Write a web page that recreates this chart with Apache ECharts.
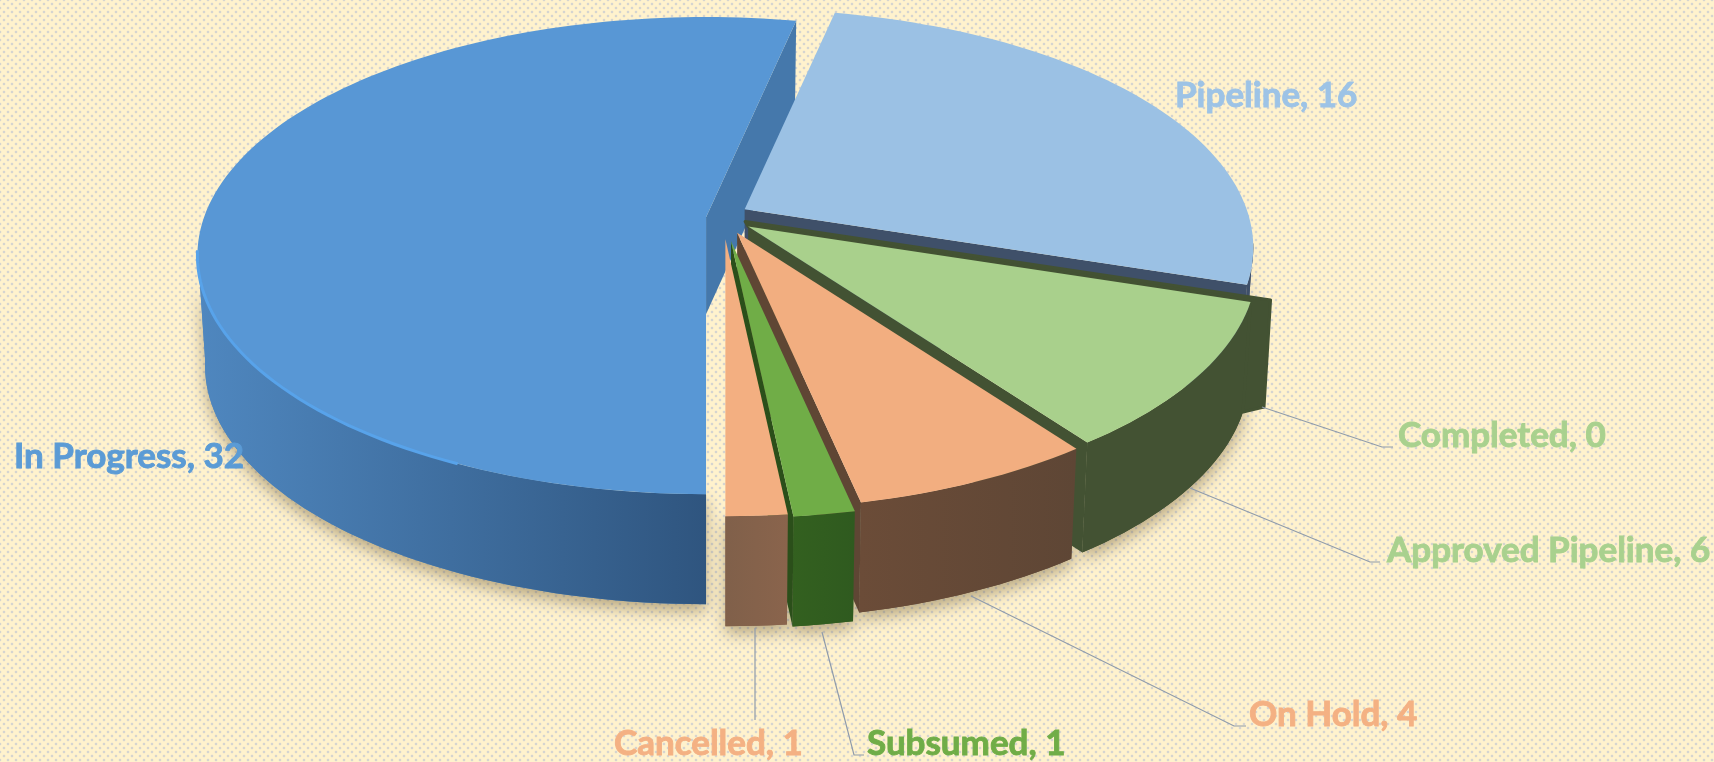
<!DOCTYPE html>
<html>
<head>
<meta charset="utf-8">
<title>Project status</title>
<script src="https://cdn.jsdelivr.net/npm/echarts@6/dist/echarts.min.js"></script>
<style>
html, body { margin: 0; padding: 0; overflow: hidden; }
#main {
    width: 1714px;
    height: 762px;
    background-color: #fff2cd;
    background-image:
        radial-gradient(circle, #d5d4d0 1px, transparent 1.7px),
        radial-gradient(circle, #d5d4d0 1px, transparent 1.7px);
    background-size: 8px 8px;
    background-position: 0 0, 4px 4px;
}
</style>
</head>
<body>
<div id="main"></div>
<script>
// clockwise from the first slice
const categories = ['Pipeline', 'Completed', 'Approved Pipeline', 'On Hold', 'Subsumed', 'Cancelled', 'In Progress'];
const values = [16, 0, 6, 4, 1, 1, 32];

const firstSliceAngle = 12;
const paintOrder = [1, 2, 3, 4, 5, 6, 0];
const explode = [0.05, 0.05, 0.0615, 0.0685, 0.1, 0.09, 0.034];
const lift = [-3, 0, 0, 0, 0, 0, 0];

const topColors = ['#9bc1e4', '#a9d18e', '#a9d08c', '#f2ae80', '#70ad47', '#f3af81', '#5897d5'];
const wallColors = [
    ['#3f5069', '#3f5069'],
    ['#435233', '#435233'],
    ['#435233', '#435233'],
    ['#5e4635', '#6b4c38'],
    ['#2f5a1f', '#33601f'],
    ['#8a644c', '#80604a'],
    ['#4f87bf', '#2f557f']
];
const cutColors = ['#3f5069', '#435233', '#435233', '#5f4634', '#2b4f1a', '#6b4c38', '#4578ab'];
const labelColors = ['#9dc3e6', '#a9d18e', '#a9d18e', '#f4b183', '#70ad47', '#f4b183', '#5b9bd5'];

// label anchors and leader lines, screen pixels
const labelLayout = [
    { x: 1175, y: 96 },
    { x: 1398, y: 436, leader: [[1262, 407], [1382, 447], [1393, 447]] },
    { x: 1387, y: 551, leader: [[1190, 488], [1370, 562], [1380, 562]] },
    { x: 1249, y: 715, leader: [[971, 596], [1234, 726], [1246, 726]] },
    { x: 867, y: 744, leader: [[822, 632], [854, 755], [864, 755]] },
    { x: 614, y: 744, leader: [[755, 628], [755, 720]] },
    { x: 14, y: 457 }
];

// perspective of the disc
const cx = 723, cy = 218;
const R = 502, A = 232.4, B = -0.161;
const depth = 110, bigCutDepth = 97, bottomScale = 0.985;

const total = values.reduce((a, b) => a + b, 0);
let run = firstSliceAngle;
const startAngles = values.map(v => {
    const s = run;
    run += v / total * 360;
    return s;
});

function apexOf(i) {
    const mid = (startAngles[i] + values[i] / total * 180) * Math.PI / 180;
    const u = Math.sin(mid) * explode[i], v = -Math.cos(mid) * explode[i];
    const d = 1 + B * v;
    return [cx + R * u / d, cy + A * v / d + lift[i]];
}

function rim(apex, deg, bottom) {
    const r = deg * Math.PI / 180;
    const u = Math.sin(r), v = -Math.cos(r), d = 1 + B * v;
    const s = bottom ? bottomScale : 1;
    return [apex[0] + R * u / d * s, apex[1] + A * v / d + (bottom ? depth : 0)];
}

function arc(apex, from, to, bottom) {
    const pts = [];
    const n = Math.max(2, Math.ceil((to - from) / 1.5));
    for (let k = 0; k <= n; k++) pts.push(rim(apex, from + (to - from) * k / n, bottom));
    return pts;
}

function renderSlice(params, api) {
    const i = params.dataIndex;
    const value = api.value(0);
    const children = [];
    const base = paintOrder[i] * 10;
    const L = labelLayout[i];

    if (L.leader) {
        children.push({
            type: 'polyline', z2: 100,
            shape: { points: L.leader },
            style: { stroke: '#8f9bab', lineWidth: 1.2, fill: null }
        });
    }
    children.push({
        type: 'text', z2: 101,
        x: L.x, y: L.y,
        style: {
            text: api.value(1) + ', ' + value,
            fill: labelColors[i],
            stroke: labelColors[i],
            lineWidth: 0.9,
            font: 'bold 35px Lato',
            align: 'left',
            verticalAlign: 'middle'
        }
    });

    if (value > 0) {
        const apex = apexOf(i);
        const a0 = startAngles[i];
        const a1 = a0 + value / total * 360;

        // outer wall, only the part facing the camera
        const w0 = Math.max(a0, 98), w1 = Math.min(a1, 262);
        if (w1 > w0) {
            const pts = arc(apex, w0, w1, false).concat(arc(apex, w0, w1, true).reverse());
            // shadow goes under everything, it must not lighten the dark walls
            children.push({
                type: 'polygon', z2: -5,
                shape: { points: pts },
                style: {
                    fill: wallColors[i][0],
                    shadowBlur: 16,
                    shadowOffsetY: 7,
                    shadowColor: 'rgba(95,75,35,0.45)'
                }
            });
            children.push({
                type: 'polygon', z2: base + 1,
                shape: { points: pts },
                style: {
                    fill: new echarts.graphic.LinearGradient(i === 6 ? 1 : 0, 0, i === 6 ? 0 : 1, 0, [
                        { offset: 0, color: wallColors[i][1] },
                        { offset: 1, color: wallColors[i][0] }
                    ])
                }
            });
        }

        // cut face under the closing edge of the slice
        const e = rim(apex, a1, false);
        const eb = rim(apex, a1, true);
        const cutDepth = categories[i] === 'In Progress' ? bigCutDepth : depth;
        children.push({
            type: 'polygon', z2: base + 2,
            shape: { points: [apex, e, [eb[0], e[1] + cutDepth], [apex[0], apex[1] + cutDepth]] },
            style: { fill: cutColors[i] }
        });

        // Approved Pipeline has a raised lip on its opening edge
        if (categories[i] === 'Approved Pipeline') {
            const t = rim(apex, a0, false), tb = rim(apex, a0, true);
            children.push({
                type: 'polygon', z2: base + 3,
                shape: { points: [
                    [apex[0] - 3, apex[1] - 5], [t[0] + 20, t[1] - 2], [tb[0] + 21, tb[1] - 5],
                    tb, t, apex
                ] },
                style: { fill: cutColors[i], stroke: cutColors[i], lineWidth: 3, lineJoin: 'round' }
            });
        }

        // top face
        children.push({
            type: 'polygon', z2: base + 4,
            shape: { points: [apex].concat(arc(apex, a0, a1, false)) },
            style: { fill: topColors[i] }
        });

        // bright rim along the front of the big slice
        if (categories[i] === 'In Progress') {
            children.push({
                type: 'polyline', z2: base + 5,
                shape: { points: arc(apex, 205, 262, false) },
                style: { stroke: '#58a3ea', lineWidth: 3, fill: null }
            });
        }
    }
    return { type: 'group', children: children };
}

const myChart = echarts.init(document.getElementById('main'), null, { renderer: 'canvas' });
myChart.setOption({
    animation: false,
    backgroundColor: 'transparent',
    series: [{
        type: 'custom',
        coordinateSystem: 'none',
        silent: true,
        renderItem: renderSlice,
        data: categories.map((c, i) => [values[i], c])
    }]
});
</script>
</body>
</html>
